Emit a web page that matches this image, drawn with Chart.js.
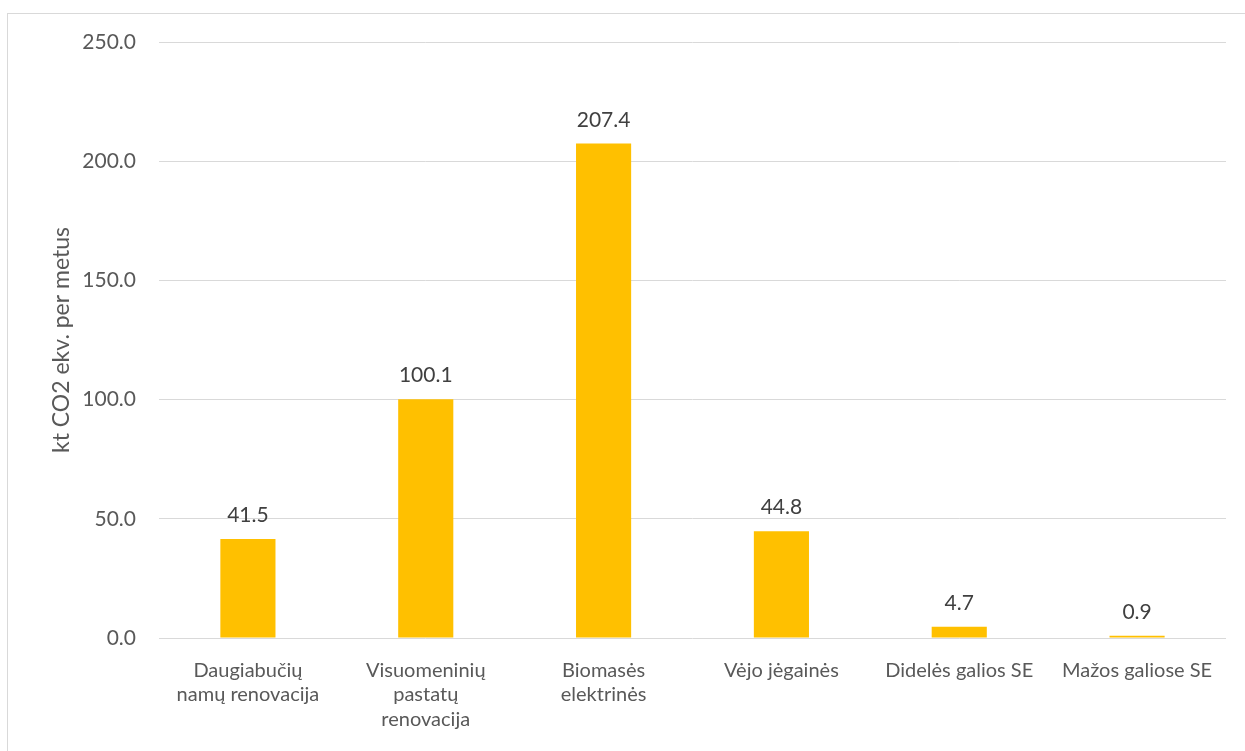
<!DOCTYPE html>
<html>
<head>
<meta charset="utf-8">
<script src="https://cdn.jsdelivr.net/npm/chart.js@4/dist/chart.umd.min.js"></script>
<style>
  html, body { margin: 0; padding: 0; background: #fff; overflow: hidden; }
  #frame { position: absolute; left: 7px; top: 13px; width: 1250px; height: 760px; border: 1px solid #d9d9d9; box-sizing: border-box; }
  #wrap { position: absolute; left: 0; top: 0; width: 1245px; height: 751px; }
</style>
</head>
<body>
<div id="frame"></div>
<div id="wrap"><canvas id="c" width="1245" height="751"></canvas></div>
<script>
// Emission reductions by measure, kt CO2 eq. per year
const categories = [
  ['Daugiabučių', 'namų renovacija'],
  ['Visuomeninių', 'pastatų', 'renovacija'],
  ['Biomasės', 'elektrinės'],
  'Vėjo jėgainės',
  'Didelės galios SE',
  'Mažos galiose SE'
];
const reductions = [41.5, 100.1, 207.4, 44.8, 4.7, 0.9];
const yTicks = [0, 50, 100, 150, 200, 250];

const FONT = 'Lato, "Open Sans", sans-serif';

// Draws each bar's value just above it
const valueLabels = {
  id: 'valueLabels',
  afterDatasetsDraw(chart) {
    const ctx = chart.ctx;
    const meta = chart.getDatasetMeta(0);
    ctx.save();
    ctx.font = '21px ' + FONT;
    ctx.fillStyle = '#404040';
    ctx.textAlign = 'center';
    ctx.textBaseline = 'alphabetic';
    meta.data.forEach((bar, i) => {
      ctx.fillText(reductions[i].toFixed(1), bar.x, bar.y - 17);
    });
    ctx.restore();
  }
};

new Chart(document.getElementById('c'), {
  type: 'bar',
  data: {
    labels: categories,
    datasets: [{
      data: reductions,
      backgroundColor: '#FFC000',
      borderWidth: 0,
      categoryPercentage: 1,
      barPercentage: 0.31
    }]
  },
  options: {
    responsive: false,
    animation: false,
    devicePixelRatio: 1,
    layout: { padding: { top: 42, right: 19, left: 0, bottom: 0 } },
    plugins: { legend: { display: false }, tooltip: { enabled: false } },
    scales: {
      x: {
        grid: { display: false },
        border: { display: false },
        ticks: {
          color: '#595959',
          font: { family: FONT, size: 20, lineHeight: 1.23 },
          padding: 12,
          maxRotation: 0,
          autoSkip: false
        },
        afterFit(scale) { scale.height = 113; }
      },
      y: {
        min: 0,
        max: 250,
        afterBuildTicks(scale) { scale.ticks = yTicks.map(v => ({ value: v })); },
        grid: { color: '#d9d9d9', lineWidth: 1, drawTicks: false },
        border: { display: false },
        ticks: {
          color: '#595959',
          font: { family: FONT, size: 21 },
          padding: 23,
          callback: v => v.toFixed(1)
        },
        title: {
          display: true,
          text: 'kt CO2 ekv. per metus',
          color: '#595959',
          font: { family: FONT, size: 23 },
          padding: { top: 48, bottom: 0 }
        },
        afterFit(scale) { scale.width = 159; }
      }
    }
  },
  plugins: [valueLabels]
});
</script>
</body>
</html>
